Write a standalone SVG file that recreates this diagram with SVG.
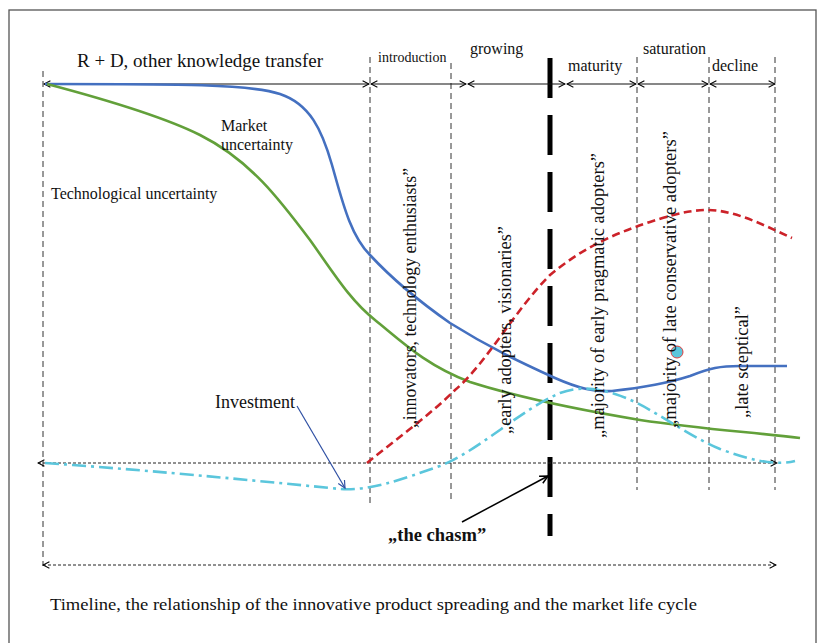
<svg xmlns="http://www.w3.org/2000/svg" width="821" height="643" viewBox="0 0 821 643">
<defs>
<marker id="ah" viewBox="0 0 10 10" refX="9" refY="5" markerWidth="8" markerHeight="8" markerUnits="userSpaceOnUse" orient="auto-start-reverse">
<path d="M1,1 L9,5 L1,9" fill="none" stroke="#000" stroke-width="1.3"/>
</marker>
<marker id="ahb" viewBox="0 0 10 10" refX="9" refY="5" markerWidth="9" markerHeight="9" markerUnits="userSpaceOnUse" orient="auto">
<path d="M1,1 L9,5 L1,9" fill="none" stroke="#2E4FA3" stroke-width="1.3"/>
</marker>
<marker id="ahk" viewBox="0 0 10 10" refX="9" refY="5" markerWidth="10" markerHeight="10" markerUnits="userSpaceOnUse" orient="auto">
<path d="M1,1 L9,5 L1,9" fill="none" stroke="#000" stroke-width="1.5"/>
</marker>
</defs>
<style>
.t{font-family:'Liberation Serif','Times New Roman','DejaVu Serif',serif;fill:#111}
.vd{stroke:#333;stroke-width:1;stroke-dasharray:6 4;fill:none}
.hd{stroke:#222;stroke-width:1;stroke-dasharray:3 2;fill:none;marker-start:url(#ah);marker-end:url(#ah)}
.top{stroke:#111;stroke-width:1.2;fill:none;marker-start:url(#ah);marker-end:url(#ah)}
.cv{fill:none;stroke-width:2.6;stroke-linecap:butt}
.rot{font-size:18px}
</style>
<rect x="9" y="10" width="807" height="645" fill="#fff" stroke="#555" stroke-width="1.3"/>

<g id="grid">
<line class="vd" x1="43" y1="71" x2="43" y2="566"/>
<line class="vd" x1="370" y1="57" x2="370" y2="505"/>
<line class="vd" x1="451" y1="63" x2="451" y2="503"/>
<line class="vd" x1="637" y1="57" x2="637" y2="490"/>
<line class="vd" x1="709" y1="57" x2="709" y2="490"/>
<line class="vd" x1="775" y1="57" x2="775" y2="490"/>
<line x1="550" y1="58" x2="550" y2="536" stroke="#000" stroke-width="5" stroke-dasharray="40 17"/>
</g>

<g id="phases">
<line class="top" x1="44" y1="84" x2="369" y2="84"/>
<line class="top" x1="371" y1="84" x2="466" y2="84"/>
<line class="top" x1="468" y1="84" x2="565" y2="84"/>
<line class="top" x1="567" y1="84" x2="636" y2="84"/>
<line class="top" x1="638" y1="84" x2="708" y2="84"/>
<line class="top" x1="710" y1="84" x2="775" y2="84"/>
<line class="hd" x1="38" y1="463" x2="777" y2="463"/>
<line class="hd" x1="43" y1="565" x2="776" y2="565"/>
</g>

<g id="curves">
<path id="market" class="cv" stroke="#4470C0" d="M45,84 C180,84 250,84 280,94 C310,104 322,130 332,165 C342,200 350,235 370,255 C395,282 420,302 450,323 C490,348 520,362 555,378 C580,389 595,392 612,391 C640,388 665,384 690,376 C710,368 720,366 740,366 L787,366"/>
<path id="tech" class="cv" stroke="#62A03A" d="M47,84 C100,98 160,115 200,135 C250,160 280,200 310,240 C335,275 350,300 375,320 C400,340 425,365 470,382 C520,398 580,410 640,420 C700,429 750,432 800,438"/>
<path id="adoption" class="cv" stroke="#CC2229" stroke-dasharray="8 4.5" d="M367,463 C395,440 430,415 455,390 C485,365 515,310 550,275 C580,250 610,235 650,222 C680,212 700,208 720,211 C745,215 770,228 792,238"/>
<path id="investment" class="cv" stroke="#5BC6DC" stroke-dasharray="14 5 3 5" d="M45,463 C160,471 280,483 340,489 C370,491 400,480 440,466 C480,450 520,410 560,393 C580,386 595,388 615,394 C650,405 680,432 720,449 C750,460 775,466 795,461"/>
<circle cx="677" cy="352" r="6" fill="#5BC6DC" stroke="#E04040" stroke-width="1"/>
</g>

<g id="connectors">
<line x1="297" y1="406" x2="345" y2="488" stroke="#2E4FA3" stroke-width="1.2" marker-end="url(#ahb)"/>
<line x1="462" y1="522" x2="548" y2="476" stroke="#000" stroke-width="1.5" marker-end="url(#ahk)"/>
</g>

<g id="labels" font-family="'Liberation Serif','Times New Roman',serif">
<text class="t" x="77" y="67" font-size="19">R + D, other knowledge transfer</text>
<text class="t" x="378" y="62" font-size="14">introduction</text>
<text class="t" x="470" y="54" font-size="16">growing</text>
<text class="t" x="568" y="71" font-size="16">maturity</text>
<text class="t" x="643" y="54" font-size="16">saturation</text>
<text class="t" x="712" y="71" font-size="16">decline</text>
<text class="t" x="221" y="131" font-size="16">Market</text>
<text class="t" x="221" y="150" font-size="16">uncertainty</text>
<text class="t" x="51" y="199" font-size="16">Technological uncertainty</text>
<text class="t" x="215" y="408" font-size="18">Investment</text>
<text class="t" x="388" y="541" font-size="18.5" font-weight="bold">„the chasm”</text>
<text class="t" x="50" y="610" font-size="17" textLength="647" lengthAdjust="spacingAndGlyphs">Timeline, the relationship of the innovative product spreading and the market life cycle</text>
<text class="t rot" transform="translate(416,428) rotate(-90)" textLength="260" lengthAdjust="spacingAndGlyphs">„innovators, technology enthusiasts”</text>
<text class="t rot" transform="translate(511,434) rotate(-90)" textLength="208" lengthAdjust="spacingAndGlyphs">„early adopters, visionaries”</text>
<text class="t rot" transform="translate(604,438) rotate(-90)" textLength="285" lengthAdjust="spacingAndGlyphs">„majority of early pragmatic adopters”</text>
<text class="t rot" transform="translate(676,428) rotate(-90)" textLength="297" lengthAdjust="spacingAndGlyphs">„majority of late conservative adopters”</text>
<text class="t rot" transform="translate(748,418) rotate(-90)" textLength="112" lengthAdjust="spacingAndGlyphs">„late sceptical”</text>
</g>
</svg>
